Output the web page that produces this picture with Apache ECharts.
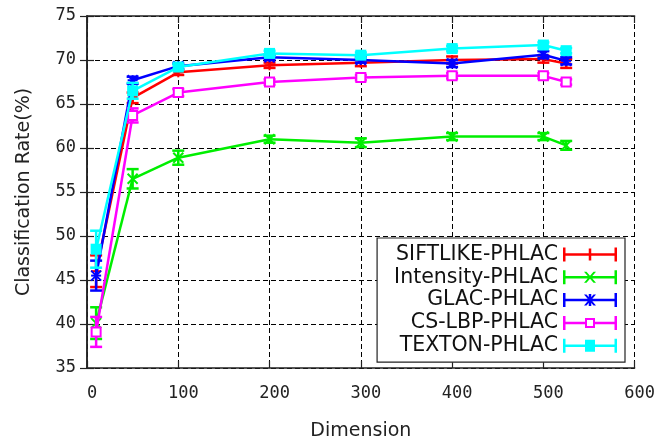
<!DOCTYPE html>
<html>
<head>
<meta charset="utf-8">
<script src="https://cdn.jsdelivr.net/npm/echarts@6/dist/echarts.min.js"></script>
<style>
  html, body { margin: 0; padding: 0; background: #fff; }
  #chart { width: 658px; height: 446px; }
</style>
</head>
<body>
<div id="chart"></div>
<script>
// dimensions on the x axis
var dims = [10, 50, 100, 200, 300, 400, 500, 525];

// classification rate (%) and error half-width per method
var siftlike = [46.0, 65.7, 68.6, 69.4, 69.7, 70.0, 70.1, 69.6];
var siftlikeErr = [1.8, 0.6, 0.3, 0.3, 0.4, 0.4, 0.4, 0.5];
var intensity = [40.1, 56.5, 58.9, 61.0, 60.6, 61.3, 61.3, 60.3];
var intensityErr = [1.8, 1.1, 0.8, 0.4, 0.5, 0.4, 0.4, 0.5];
var glac = [45.5, 67.7, 69.3, 70.3, 70.0, 69.6, 70.6, 69.9];
var glacErr = [1.7, 0.4, 0.3, 0.3, 0.3, 0.4, 0.4, 0.4];
var cslbp = [39.1, 63.7, 66.3, 67.5, 68.0, 68.2, 68.2, 67.5];
var cslbpErr = [1.7, 0.8, 0.4, 0.3, 0.3, 0.3, 0.3, 0.3];
var texton = [48.5, 66.5, 69.2, 70.75, 70.55, 71.3, 71.7, 71.06];
var textonErr = [2.1, 0.9, 0.3, 0.3, 0.3, 0.3, 0.3, 0.3];

var xTicks = { min: 0, max: 600, step: 100 };
var yTicks = { min: 35, max: 75, step: 5 };

var chart = echarts.init(document.getElementById('chart'));

// legend icons: line with end caps and the point marker in the middle
var capsAndLine = 'M0,0H2.5V14H0Z M51.5,0H54V14H51.5Z ';
var fullLine = 'M0,5.75H54V8.25H0Z ';
var icons = {
  plus: 'path://' + capsAndLine + fullLine + 'M25.75,1H28.25V13H25.75Z',
  cross: 'path://' + capsAndLine + fullLine + 'M21,1.5L23.5,1.5L33,12.5L30.5,12.5Z M30.5,1.5L33,1.5L23.5,12.5L21,12.5Z',
  star: 'path://' + capsAndLine + fullLine + 'M21,1.5L23.5,1.5L33,12.5L30.5,12.5Z M30.5,1.5L33,1.5L23.5,12.5L21,12.5Z M25.75,1H28.25V13H25.75Z',
  box: 'path://' + capsAndLine + 'M2.5,5.75H22V8.25H2.5Z M32,5.75H51.5V8.25H32Z M22,2H32V12H22Z M24,4V10H30V4Z',
  fbox: 'path://' + capsAndLine + fullLine + 'M22,1H32V13H22Z'
};

function markerShapes(kind, x, y, color) {
  var s = 5;
  var st = { stroke: color, lineWidth: 2, fill: null };
  var out = [];
  function seg(x1, y1, x2, y2) {
    out.push({ type: 'line', shape: { x1: x1, y1: y1, x2: x2, y2: y2 }, style: st });
  }
  if (kind === 'plus' || kind === 'star') {
    seg(x - s, y, x + s, y);
    seg(x, y - s, x, y + s);
  }
  if (kind === 'cross' || kind === 'star') {
    seg(x - s, y - s, x + s, y + s);
    seg(x - s, y + s, x + s, y - s);
  }
  if (kind === 'box') {
    out.push({ type: 'rect', shape: { x: x - 4.5, y: y - 4.5, width: 9, height: 9 },
      style: { stroke: color, lineWidth: 2, fill: '#fff' } });
  }
  if (kind === 'fbox') {
    out.push({ type: 'rect', shape: { x: x - 5.5, y: y - 5.5, width: 11, height: 11 },
      style: { fill: color } });
  }
  return out;
}

function makeSeries(name, vals, errs, color, kind) {
  return {
    name: name,
    type: 'custom',
    itemStyle: { color: color },
    data: dims.map(function (d, i) { return [d, vals[i], errs[i]]; }),
    encode: { x: 0, y: 1 },
    renderItem: function (params, api) {
      var i = params.dataIndex;
      var x = api.value(0), v = api.value(1), e = api.value(2);
      var p = api.coord([x, v]);
      var hi = api.coord([x, v + e]);
      var lo = api.coord([x, v - e]);
      var st = { stroke: color, lineWidth: 2.5, fill: null };
      var cap = 6;
      var kids = [];
      if (i < dims.length - 1) {
        var q = api.coord([dims[i + 1], vals[i + 1]]);
        kids.push({ type: 'line', shape: { x1: p[0], y1: p[1], x2: q[0], y2: q[1] }, style: st });
      }
      kids.push({ type: 'line', shape: { x1: p[0], y1: hi[1], x2: p[0], y2: lo[1] }, style: st });
      kids.push({ type: 'line', shape: { x1: p[0] - cap, y1: hi[1], x2: p[0] + cap, y2: hi[1] }, style: st });
      kids.push({ type: 'line', shape: { x1: p[0] - cap, y1: lo[1], x2: p[0] + cap, y2: lo[1] }, style: st });
      kids = kids.concat(markerShapes(kind, p[0], p[1], color));
      return { type: 'group', children: kids };
    }
  };
}

var tickFont = { fontFamily: 'DejaVu Sans Mono', fontSize: 17, color: '#222' };
var frame = { show: true, lineStyle: { color: '#222', width: 1.5 } };
var ticksIn = { show: true, inside: true, length: 7, lineStyle: { color: '#222', width: 1.2 } };
var grid = { show: true, lineStyle: { color: '#000', width: 1, type: [5, 3] } };

var option = {
  animation: false,
  backgroundColor: '#fff',
  grid: { left: 87, right: 22, top: 16, bottom: 78, containLabel: false },
  legend: {
    orient: 'vertical',
    right: 33,
    top: 238,
    align: 'right',
    itemWidth: 54,
    itemHeight: 14,
    itemGap: 1.8,
    padding: [6, 8, 6, 17],
    borderColor: '#222',
    borderWidth: 1.2,
    backgroundColor: '#fff',
    symbolKeepAspect: false,
    textStyle: { fontFamily: 'DejaVu Sans', fontSize: 20.5, color: '#111' },
    data: [
      { name: 'SIFTLIKE-PHLAC', icon: icons.plus },
      { name: 'Intensity-PHLAC', icon: icons.cross },
      { name: 'GLAC-PHLAC', icon: icons.star },
      { name: 'CS-LBP-PHLAC', icon: icons.box },
      { name: 'TEXTON-PHLAC', icon: icons.fbox }
    ]
  },
  xAxis: [{
    type: 'value', min: xTicks.min, max: xTicks.max, interval: xTicks.step,
    name: 'Dimension', nameLocation: 'middle', nameGap: 54,
    nameTextStyle: { fontFamily: 'DejaVu Sans', fontSize: 19, color: '#222' },
    axisLine: frame, axisTick: ticksIn, splitLine: grid,
    axisLabel: Object.assign({ margin: 17, padding: [0, 0, 0, 10] }, tickFont)
  }, {
    type: 'value', position: 'top', min: xTicks.min, max: xTicks.max, interval: xTicks.step,
    axisLine: frame, axisTick: ticksIn, splitLine: { show: false }, axisLabel: { show: false }
  }],
  yAxis: [{
    type: 'value', min: yTicks.min, max: yTicks.max, interval: yTicks.step,
    name: 'Classification Rate(%)', nameLocation: 'middle', nameGap: 53,
    nameTextStyle: { fontFamily: 'DejaVu Sans', fontSize: 19, color: '#222' },
    axisLine: frame, axisTick: ticksIn, splitLine: grid,
    axisLabel: Object.assign({ margin: 11 }, tickFont)
  }, {
    type: 'value', position: 'right', min: yTicks.min, max: yTicks.max, interval: yTicks.step,
    axisLine: frame, axisTick: ticksIn, splitLine: { show: false }, axisLabel: { show: false }
  }],
  series: [
    makeSeries('SIFTLIKE-PHLAC', siftlike, siftlikeErr, '#ff0000', 'plus'),
    makeSeries('Intensity-PHLAC', intensity, intensityErr, '#00ee00', 'cross'),
    makeSeries('GLAC-PHLAC', glac, glacErr, '#0000ff', 'star'),
    makeSeries('CS-LBP-PHLAC', cslbp, cslbpErr, '#ff00ff', 'box'),
    makeSeries('TEXTON-PHLAC', texton, textonErr, '#00ffff', 'fbox')
  ]
};

chart.setOption(option);
</script>
</body>
</html>
